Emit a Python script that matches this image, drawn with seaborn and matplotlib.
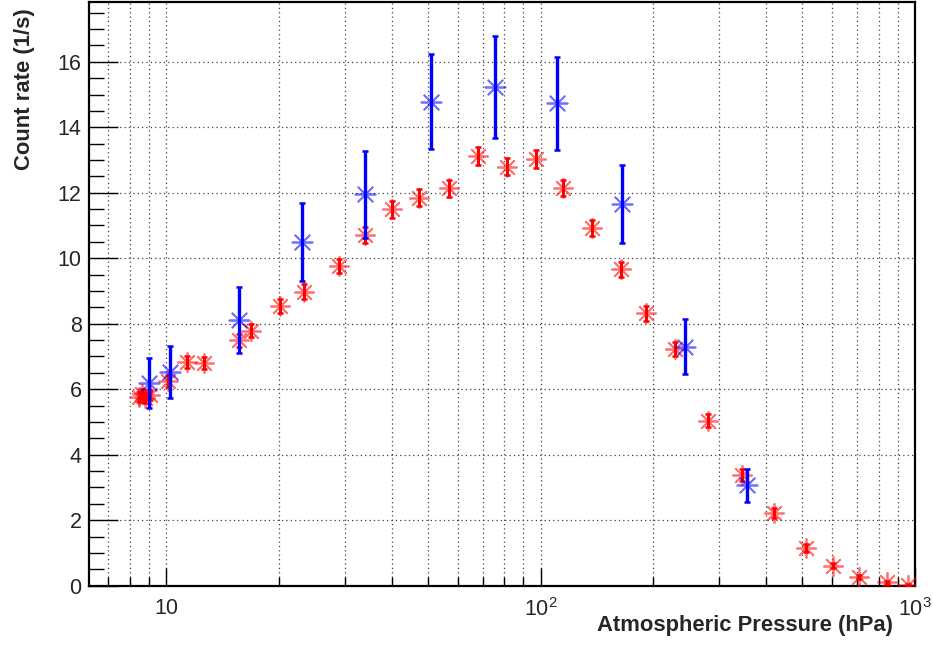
import numpy as np
import pandas as pd
import matplotlib
matplotlib.use("Agg")
import matplotlib.pyplot as plt
import matplotlib.ticker as mticker
import seaborn as sns

# ---- data ----
red_pressure = [8.45, 8.6, 8.8, 9.05, 10.14, 11.36, 12.58, 15.6, 16.85, 20.1, 23.3, 28.9,
                33.9, 40.1, 47.3, 56.9, 68.0, 81.1, 97.0, 115.0, 137.4, 163.7, 191.7,
                228.6, 280.2, 345.9, 420.6, 511.7, 604.7, 709.7, 841.6, 956.0]
red_rate = [5.75, 5.85, 5.72, 5.82, 6.25, 6.84, 6.79, 7.50, 7.78, 8.54, 8.98, 9.77,
            10.71, 11.49, 11.85, 12.13, 13.12, 12.79, 13.04, 12.15, 10.93, 9.67, 8.32,
            7.22, 5.04, 3.38, 2.21, 1.16, 0.61, 0.26, 0.10, 0.02]
red_err = [0.15, 0.15, 0.15, 0.15, 0.17, 0.18, 0.18, 0.20, 0.20, 0.20, 0.22, 0.22,
           0.23, 0.25, 0.25, 0.25, 0.28, 0.26, 0.27, 0.25, 0.24, 0.23, 0.23,
           0.22, 0.20, 0.18, 0.15, 0.12, 0.08, 0.06, 0.04, 0.03]

blue_pressure = [8.97, 10.25, 15.6, 23.0, 34.0, 50.9, 75.5, 110.8, 164.7, 243.2, 356.9]
blue_rate = [6.18, 6.53, 8.11, 10.49, 11.95, 14.78, 15.22, 14.73, 11.65, 7.30, 3.07]
blue_err = [0.76, 0.80, 1.00, 1.20, 1.32, 1.45, 1.56, 1.42, 1.20, 0.83, 0.50]

x_tick_vals = [10, 100, 1000]
x_tick_labels = ["10", r"$10^{2}$", r"$10^{3}$"]
y_tick_vals = [0, 2, 4, 6, 8, 10, 12, 14, 16]

xlabel = "Atmospheric Pressure (hPa)"
ylabel = "Count rate (1/s)"

red_df = pd.DataFrame({"p": red_pressure, "r": red_rate, "e": red_err})
blue_df = pd.DataFrame({"p": blue_pressure, "r": blue_rate, "e": blue_err})

# ---- style ----
sns.set_style("ticks")
plt.rcParams["font.family"] = ["Liberation Sans", "DejaVu Sans"]
plt.rcParams["mathtext.fontset"] = "custom"
plt.rcParams["mathtext.rm"] = "Liberation Sans"
plt.rcParams["mathtext.it"] = "Liberation Sans"
plt.rcParams["mathtext.default"] = "regular"

fig = plt.figure(figsize=(9.33, 6.45), dpi=100)
ax = fig.add_axes([88.5 / 933, 1 - 585.7 / 645, (915 - 88.5) / 933, (585.7 - 1.5) / 645])

star = (8, 2, 0)

# red series
ax.errorbar(red_df["p"], red_df["r"], yerr=red_df["e"], fmt="none", ecolor="#ff0000",
            elinewidth=2.2, capsize=2.4, capthick=1.8, zorder=3)
sns.scatterplot(data=red_df, x="p", y="r", marker=star, s=190, color="#ff0000",
                linewidth=1.3, alpha=0.55, ax=ax, zorder=4, legend=False)

# blue series
ax.errorbar(blue_df["p"], blue_df["r"], yerr=blue_df["e"], fmt="none", ecolor="#0000ff",
            elinewidth=2.4, capsize=2.4, capthick=1.8, zorder=5)
sns.scatterplot(data=blue_df, x="p", y="r", marker=star, s=210, color="#0000ff",
                linewidth=1.3, alpha=0.55, ax=ax, zorder=6, legend=False)

# ---- axes ----
ax.set_xscale("log")
ax.set_xlim(6.2, 1000)
ax.set_ylim(0, 17.84)

ax.xaxis.set_major_locator(mticker.FixedLocator(x_tick_vals))
ax.xaxis.set_major_formatter(mticker.FixedFormatter(x_tick_labels))
ax.xaxis.set_minor_locator(mticker.LogLocator(base=10, subs=np.arange(2, 10), numticks=20))
ax.xaxis.set_minor_formatter(mticker.NullFormatter())

ax.yaxis.set_major_locator(mticker.FixedLocator(y_tick_vals))
ax.yaxis.set_minor_locator(mticker.MultipleLocator(0.5))

ax.tick_params(axis="both", which="both", direction="in", top=False, right=False,
               color="black", labelsize=15.5)
ax.tick_params(axis="y", which="major", length=21, width=1.0, pad=5)
ax.tick_params(axis="y", which="minor", length=11, width=1.0)
ax.tick_params(axis="x", which="major", length=13, width=1.0, pad=9)
ax.tick_params(axis="x", which="minor", length=6.5, width=1.0)

for s in ax.spines.values():
    s.set_linewidth(1.6)
    s.set_color("black")

ax.grid(True, which="major", axis="both", linestyle=(0, (1, 2.5)), color="0.25", linewidth=0.9)
ax.grid(True, which="minor", axis="x", linestyle=(0, (1, 2.5)), color="0.25", linewidth=0.9)
ax.set_axisbelow(True)

ax.set_xlabel(xlabel, fontsize=15.8, fontweight="bold", loc="right")
ax.xaxis.set_label_coords((893 - 88.5) / 826.5, -(615 - 585.7) / 584.2)
ax.set_ylabel(ylabel, fontsize=15.8, fontweight="bold", loc="top")
ax.yaxis.set_label_coords(-(88.5 - 35) / 826.5, (585.7 - 8) / 584.2)

fig.savefig("out.png", dpi=100)
